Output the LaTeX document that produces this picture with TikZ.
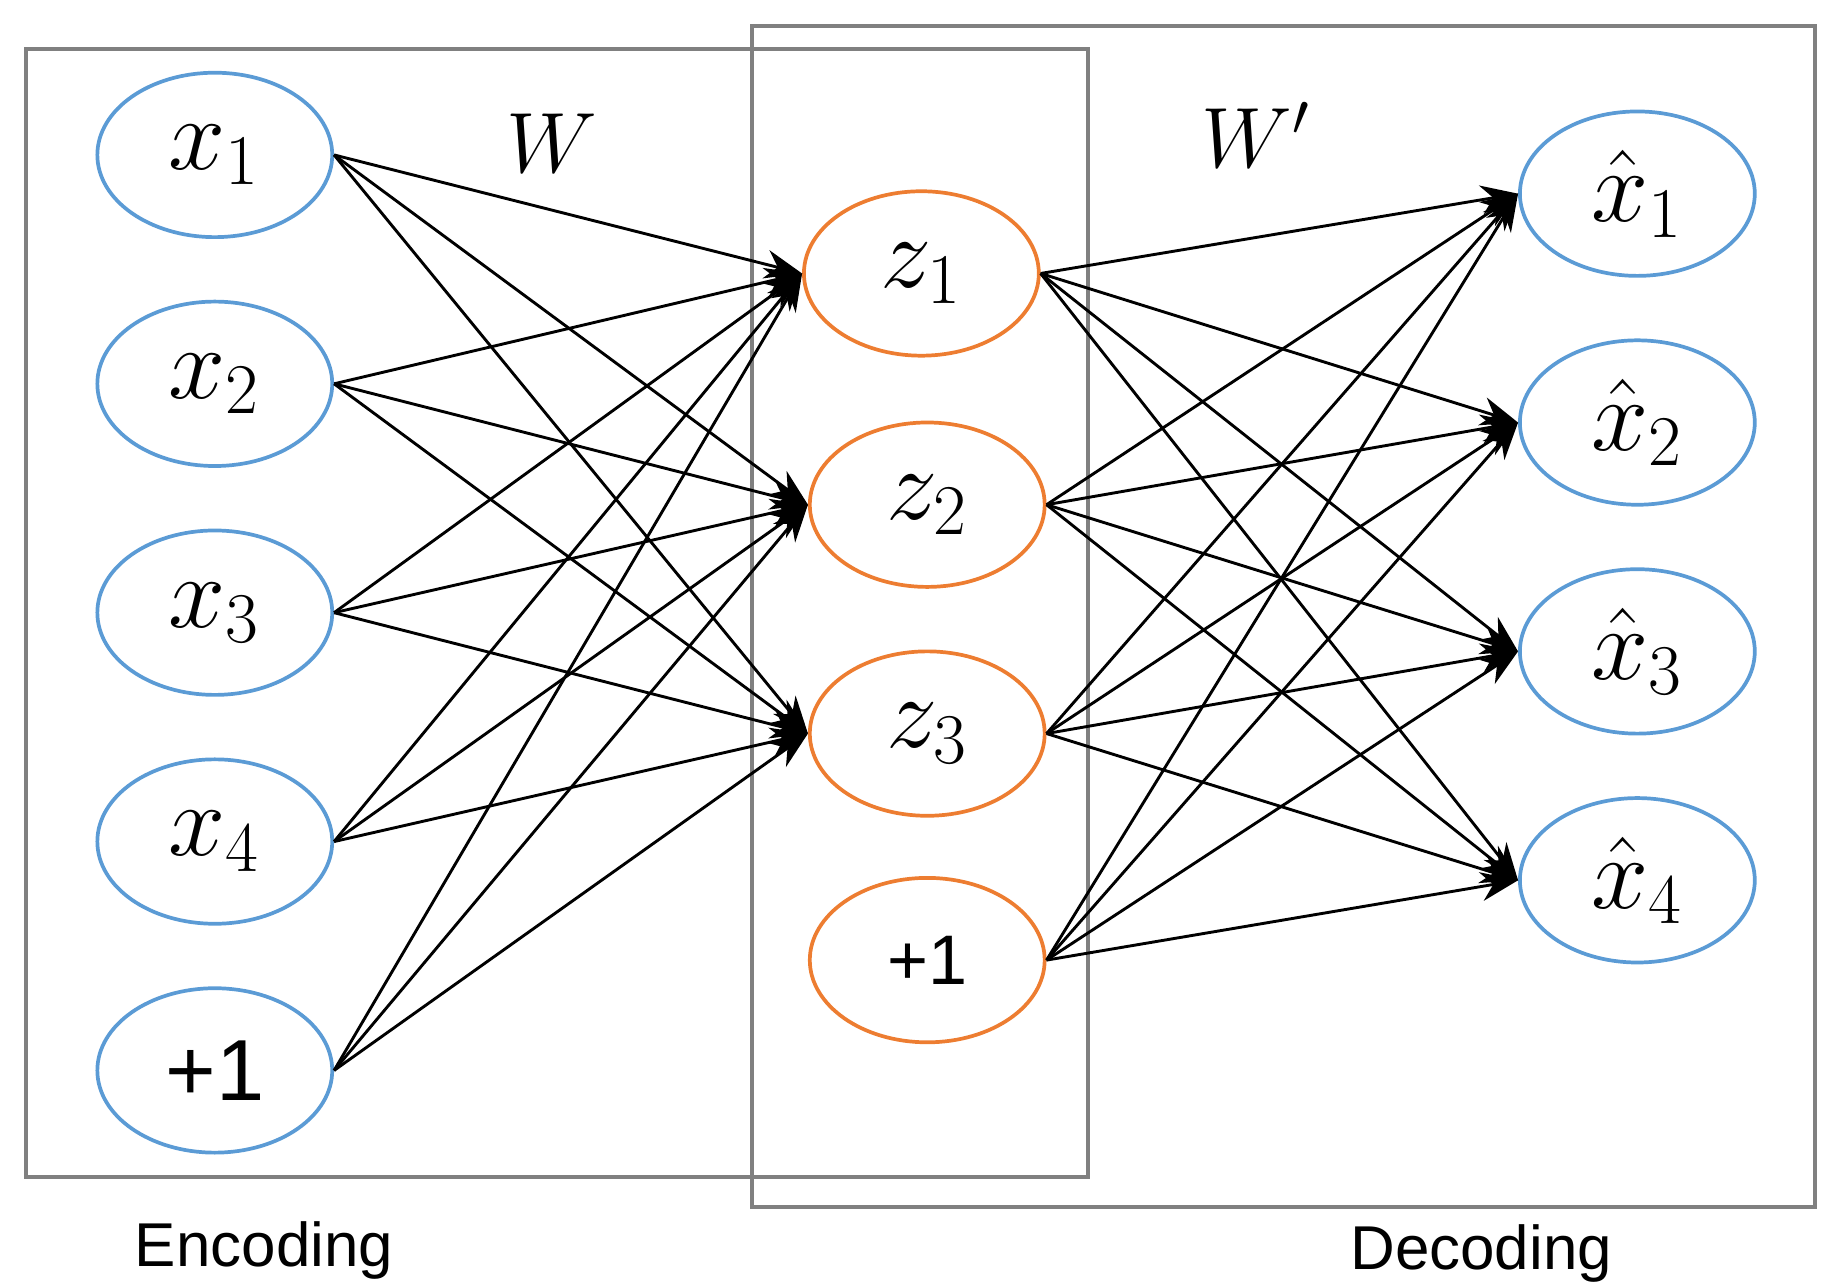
\documentclass[tikz,border=0pt]{standalone}
\usepackage{amsmath}
\usepackage{fontspec}
\setmainfont{Liberation Sans}
\usetikzlibrary{shapes.geometric,arrows.meta}
\definecolor{inblue}{RGB}{91,155,213}
\definecolor{hidorange}{RGB}{237,125,49}
\tikzset{
  unit/.style={shape=ellipse,draw,line width=0.9pt,minimum width=2cm,minimum height=1.4cm,inner sep=0pt,font=\fontsize{26}{30}\selectfont},
  inunit/.style={unit,draw=inblue},
  hidunit/.style={unit,draw=hidorange},
  frame/.style={draw=gray,line width=1pt},
  conn/.style={-{Stealth[length=9pt,width=7pt]},line width=0.7pt}
}
\begin{document}
\begin{tikzpicture}[x=0.01cm,y=-0.01cm]
                  \useasboundingbox (0,0) rectangle (1560,1097);
                  % frames
                  \draw[frame] (22,42) rectangle (927,1003);
                  \draw[frame] (641,22) rectangle (1546,1028);
                  
                  % input layer
                  \node[inunit] (x1) at (183,132) {$x_1$};
                  \node[inunit] (x2) at (183,327) {$x_2$};
                  \node[inunit] (x3) at (183,522) {$x_3$};
                  \node[inunit] (x4) at (183,717) {$x_4$};
                  \node[inunit,font=\fontsize{21}{24}\selectfont] (x5) at (183,912) {+1};
                  
                  % hidden layer
                  \node[hidunit] (z1) at (785,233) {$z_1$};
                  \node[hidunit] (z2) at (790,430) {$z_2$};
                  \node[hidunit] (z3) at (790,625) {$z_3$};
                  \node[hidunit,font=\fontsize{17}{20}\selectfont] (z4) at (790,818) {+1};
                  
                  % output layer
                  \node[inunit] (y1) at (1395,165) {$\hat{x}_1$};
                  \node[inunit] (y2) at (1395,360) {$\hat{x}_2$};
                  \node[inunit] (y3) at (1395,555) {$\hat{x}_3$};
                  \node[inunit] (y4) at (1395,750) {$\hat{x}_4$};
                  
                  % labels
                  \node[font=\fontsize{22}{26}\selectfont] (w) at (470,122) {$W$};
                  \node[font=\fontsize{22}{26}\selectfont] (wp) at (1070,115) {$W'$};
                  \node[font=\fontsize{15}{18}\selectfont] (enc) at (225,1065) {Encoding};
                  \node[font=\fontsize{15}{18}\selectfont] (dec) at (1262,1068) {Decoding};
                  
                  % edges
                  \foreach \i in {1,...,5}
                    \foreach \j in {1,2,3}
                      \draw[conn] (x\i.east) -- (z\j.west);
                  \foreach \i in {1,...,4}
                    \foreach \j in {1,...,4}
                      \draw[conn] (z\i.east) -- (y\j.west);
              \end{tikzpicture}
\end{document}
